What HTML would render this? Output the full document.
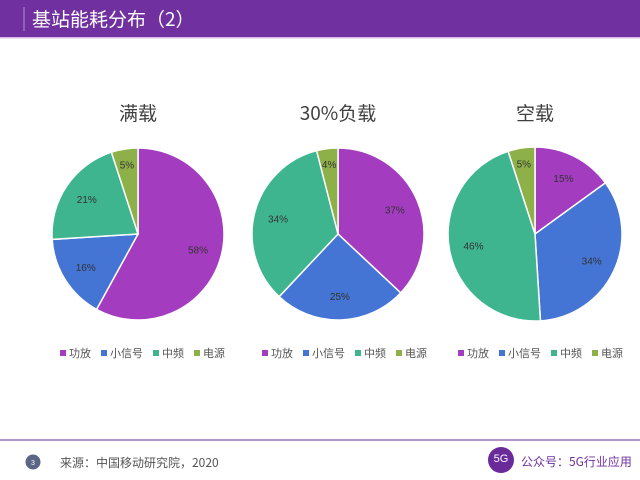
<!DOCTYPE html>
<html><head><meta charset="utf-8"><style>
body{margin:0;width:640px;height:480px;overflow:hidden;background:#fff;font-family:"Liberation Sans","Noto Sans CJK SC",sans-serif;}
</style></head><body>
<svg id="s" width="640" height="480" xmlns="http://www.w3.org/2000/svg" style="position:absolute;left:0;top:0">
<rect x="0" y="0" width="640" height="37" fill="#7030a0"/>
<rect x="0" y="37" width="640" height="1.5" fill="#d9b8ec"/>
<line x1="24" y1="7" x2="24" y2="31" stroke="#b590d0" stroke-width="1"/>
<text x="32" y="26" font-size="19" fill="#fff" font-family="Noto Sans CJK SC,sans-serif">基站能耗分布（2）</text>
<line x1="0" y1="440" x2="640" y2="440" stroke="#9a72b8" stroke-width="1.5"/>
<circle cx="33" cy="462" r="7.5" fill="#5b6585"/>
<text x="33" y="465" font-size="7" fill="#fff" text-anchor="middle">3</text>
<text x="60" y="467" font-size="12" fill="#555" font-family="Noto Sans CJK SC,sans-serif">来源：中国移动研究院，2020</text>
<circle cx="501" cy="460" r="13" fill="#6a2a9a"/>
<text x="501" y="462" font-size="11" fill="#fff" text-anchor="middle">5G</text>
<text x="521" y="466" font-size="12" fill="#7030a0" font-family="Noto Sans CJK SC,sans-serif">公众号：5G行业应用</text>
<g id="charts"></g>
</svg>
<script>
var cols=["#a43cc0","#4474d4","#3fb58f","#8db048"];
var names=["功放","小信号","中频","电源"];
var pies=[{cx:138,cy:234,r:86,t:"满载",d:[58,16,21,5],lx:60},{cx:338,cy:234,r:86,t:"30%负载",d:[37,25,34,4],lx:262},{cx:535,cy:234,r:87,t:"空载",d:[15,34,46,5],lx:458}];
var h="";
pies.forEach(function(p){
 h+='<text x="'+p.cx+'" y="120" font-size="19" fill="#404040" text-anchor="middle" font-family="Noto Sans CJK SC,sans-serif">'+p.t+'</text>';
 var a=0;
 p.d.forEach(function(v,i){
  var a0=a/100*2*Math.PI,a1=(a+v)/100*2*Math.PI;
  var x0=p.cx+p.r*Math.sin(a0),y0=p.cy-p.r*Math.cos(a0),x1=p.cx+p.r*Math.sin(a1),y1=p.cy-p.r*Math.cos(a1);
  h+='<path d="M'+p.cx+','+p.cy+' L'+x0+','+y0+' A'+p.r+','+p.r+' 0 '+(v>50?1:0)+' 1 '+x1+','+y1+' Z" fill="'+cols[i]+'" stroke="#fff" stroke-width="1.5"/>';
  var am=(a0+a1)/2,rr=p.r*(v<8?0.82:0.72);
  h+='<text x="'+(p.cx+rr*Math.sin(am))+'" y="'+(p.cy-rr*Math.cos(am)+4)+'" font-size="10" fill="#333" text-anchor="middle">'+v+'%</text>';
  a+=v;
 });
 var x=p.lx;
 names.forEach(function(n,i){
  h+='<rect x="'+x+'" y="350" width="6" height="6" fill="'+cols[i]+'"/>';
  h+='<text x="'+(x+9)+'" y="357" font-size="11" fill="#555" font-family="Noto Sans CJK SC,sans-serif">'+n+'</text>';
  x+=9+n.length*11+10;
 });
});
document.getElementById("charts").innerHTML=h;
</script>
</body></html>
